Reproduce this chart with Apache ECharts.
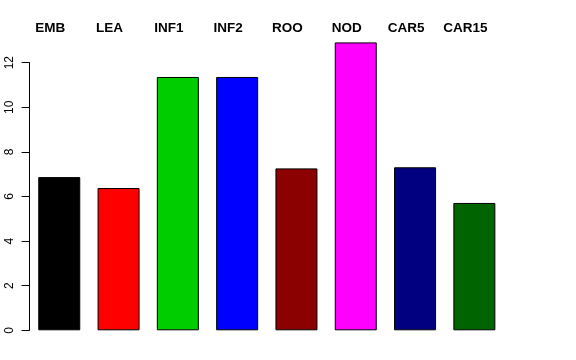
<!DOCTYPE html>
<html>
<head>
<meta charset="utf-8">
<script src="https://cdn.jsdelivr.net/npm/echarts@6/dist/echarts.min.js"></script>
<style>html,body{margin:0;padding:0;background:#fff;}#c{width:576px;height:360px;}</style>
</head>
<body>
<div id="c"></div>
<script>
const categories = ['EMB', 'LEA', 'INF1', 'INF2', 'ROO', 'NOD', 'CAR5', 'CAR15'];
const values = [6.87, 6.38, 11.36, 11.36, 7.26, 12.91, 7.31, 5.71];
const barColors = ['#000000', '#FF0000', '#00CD00', '#0000FF', '#8B0000', '#FF00FF', '#000080', '#006400'];
const yTicks = [0, 2, 4, 6, 8, 10, 12];

const chart = echarts.init(document.getElementById('c'), null, {renderer: 'canvas'});
chart.setOption({
  animation: false,
  backgroundColor: '#ffffff',
  grid: {left: 29.6, right: 72, top: 62.7, bottom: 29.7, containLabel: false},
  xAxis: {
    type: 'category',
    position: 'top',
    data: categories,
    axisLine: {show: false},
    axisTick: {show: false},
    axisLabel: {
      color: '#000', fontFamily: 'Liberation Sans, Arial, sans-serif',
      fontWeight: 'bold', fontSize: 13.5, margin: 27,
      padding: [0, 18, 0, 0], align: 'center', interval: 0
    },
    splitLine: {show: false}
  },
  yAxis: {
    type: 'value',
    min: yTicks[0], max: yTicks[yTicks.length - 1], interval: 2,
    axisLine: {show: true, lineStyle: {color: '#000', width: 1}},
    axisTick: {show: true, length: 8, lineStyle: {color: '#000', width: 1}},
    axisLabel: {
      color: '#000', fontFamily: 'Liberation Sans, Arial, sans-serif',
      fontSize: 12, rotate: 90, margin: 14
    },
    splitLine: {show: false}
  },
  series: [{
    type: 'bar',
    clip: false,
    barWidth: 42,
    data: values.map((v, i) => ({value: v, itemStyle: {color: barColors[i]}})),
    itemStyle: {borderColor: '#000', borderWidth: 1}
  }]
});
</script>
</body>
</html>
